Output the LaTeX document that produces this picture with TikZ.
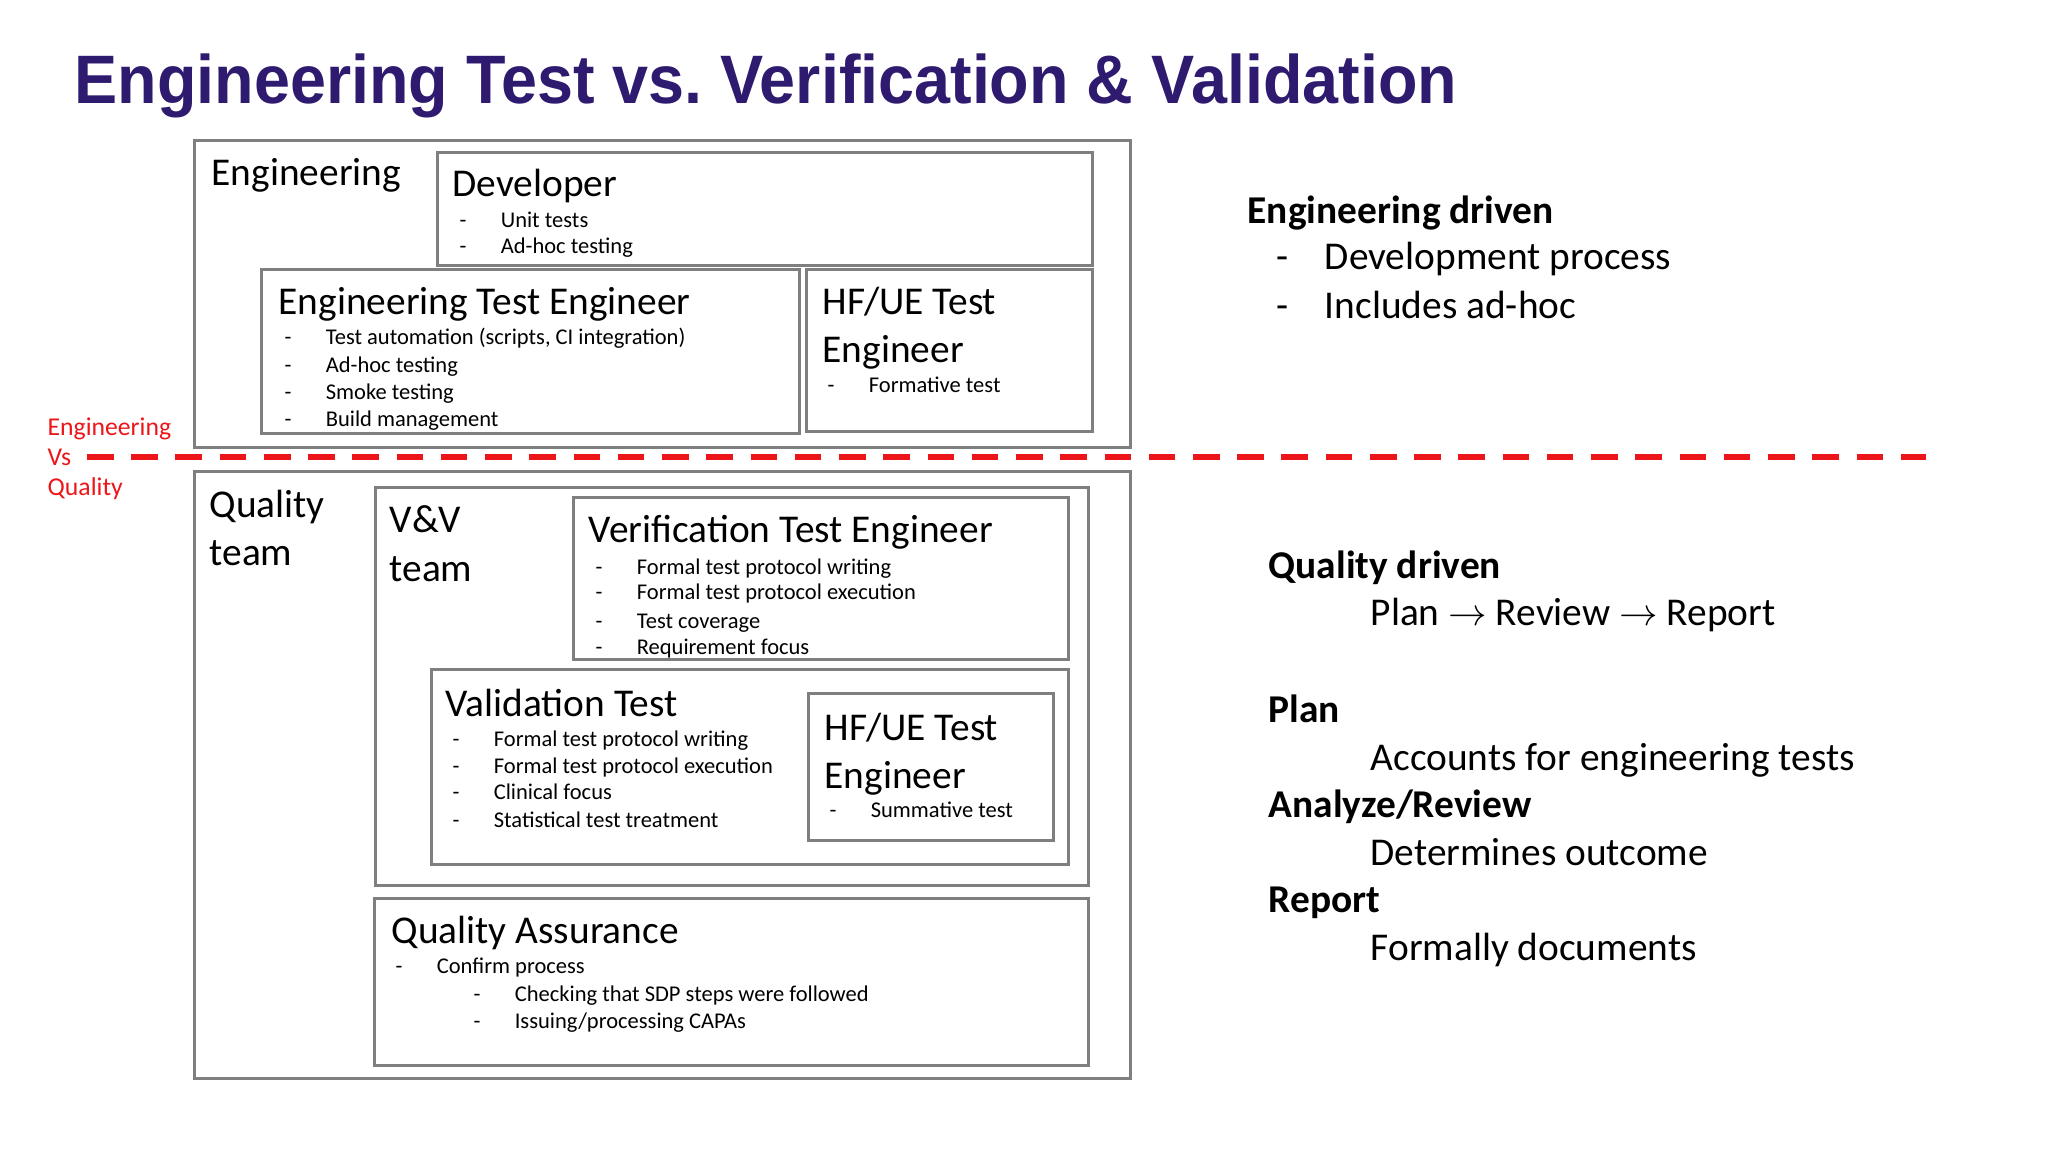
\documentclass[tikz,border=0pt]{standalone}
\usepackage{fontspec}
\setmainfont{Carlito}
\newfontfamily\titlefont{Liberation Sans}
\usepackage{tikz}
\definecolor{titlepurple}{RGB}{46,26,110}
\definecolor{boxgray}{RGB}{127,127,127}
\definecolor{splitred}{RGB}{236,22,26}
\tikzstyle{box}=[draw=boxgray,line width=0.8pt,anchor=north west,inner sep=0pt]
\tikzstyle{heading}=[anchor=base west,inner sep=0pt,font=\fontsize{11.2}{13.4}\selectfont]
\tikzstyle{boldhead}=[anchor=base west,inner sep=0pt,font=\fontsize{11.2}{13.4}\selectfont\bfseries]
\tikzstyle{smallitem}=[anchor=base west,inner sep=0pt,font=\fontsize{6.4}{7.7}\selectfont]
\tikzstyle{redlabel}=[anchor=base west,inner sep=0pt,text=splitred,font=\fontsize{7.3}{8.8}\selectfont]
\tikzstyle{splitline}=[draw=splitred,line width=1.7pt,dash pattern=on 7.55pt off 5.03pt]
\newcommand{\itemdash}{\makebox[11.7pt][l]{-}}
\newcommand{\sidedash}{\makebox[13.7pt][l]{-}}

\begin{document}
\begin{tikzpicture}[x=0.01cm,y=-0.01cm]

    \fill[white] (0,0) rectangle (2048,1152);
    \useasboundingbox (0,0) rectangle (2048,1152);

    \node[anchor=base west,inner sep=0pt,text=titlepurple] (title) at (74,104)
        {\scalebox{0.943}[1]{\titlefont\fontsize{19.5}{23}\selectfont\bfseries Engineering Test vs.\ Verification \& Validation}};

    % boxes: corner / name / width / height
    \foreach \x/\y/\name/\w/\h in {193/139/engOuter/936/307, 436/151/devBox/655/113, 260/268/eteBox/538/164, 805/268/hfEngBox/286/162,
        193/470/qualOuter/936/607, 374/486/vvBox/713/398, 572/496/verBox/495/162, 430/668/valBox/637/195, 807/692/hfValBox/245/147, 373/897/qaBox/714/167}
        \node[box,minimum width=\w*0.01cm,minimum height=\h*0.01cm] (\name) at (\x,\y) {};

    \foreach \pos/\name/\label in {{(211,186)/engLabel/Engineering}, {(452,197)/devHead/Developer}, {(278,315)/eteHead/Engineering Test Engineer},
        {(822,315)/hfEngHeadA/{HF/UE Test}}, {(822,363)/hfEngHeadB/Engineer}, {(209,518)/qualLabelA/Quality}, {(209,566)/qualLabelB/team},
        {(389,533)/vvLabelA/V\&V}, {(389,581)/vvLabelB/team}, {(588,543)/verHead/Verification Test Engineer}, {(445,716)/valHead/Validation Test},
        {(824,740)/hfValHeadA/{HF/UE Test}}, {(824,788)/hfValHeadB/Engineer}, {(391,943)/qaHead/Quality Assurance}}
        \node[heading] (\name) at \pos {\label};

    \foreach \pos/\name/\label in {{(459,228)/devA/Unit tests}, {(459,254)/devB/Ad-hoc testing},
        {(284,345)/eteA/Test automation (scripts, CI integration)}, {(284,373)/eteB/Ad-hoc testing}, {(284,400)/eteC/Smoke testing}, {(284,427)/eteD/Build management},
        {(827,393)/hfEngA/Formative test},
        {(595,574)/verA/Formal test protocol writing}, {(595,600)/verB/Formal test protocol execution}, {(595,628)/verC/Test coverage}, {(595,655)/verD/Requirement focus},
        {(452,746)/valA/Formal test protocol writing}, {(452,773)/valB/Formal test protocol execution}, {(452,799)/valC/Clinical focus}, {(452,827)/valD/Statistical test treatment},
        {(829,817)/hfValA/Summative test},
        {(395,973)/qaA/Confirm process}, {(473,1001)/qaB/Checking that SDP steps were followed}, {(473,1028)/qaC/{Issuing/processing CAPAs}}}
        \node[smallitem] (\name) at \pos {\itemdash\label};

    % engineering / quality split
    \foreach \pos/\name/\label in {{(47,436)/splitA/Engineering}, {(47,466)/splitB/Vs}, {(47,496)/splitC/Quality}}
        \node[redlabel] (\name) at \pos {\label};
    \coordinate (splitL) at (87,457);
    \coordinate (splitR) at (1926,457);
    \path[splitline] (splitL) -- (splitR);

    % right hand notes
    \foreach \pos/\name/\label in {{(1247,224)/engDriven/Engineering driven}, {(1268,579)/qualDriven/Quality driven},
        {(1268,722)/planHead/Plan}, {(1268,817)/reviewHead/{Analyze/Review}}, {(1268,912)/reportHead/Report}}
        \node[boldhead] (\name) at \pos {\label};

    \foreach \pos/\name/\label in {{(1276,270)/engNoteA/\sidedash Development process}, {(1276,319)/engNoteB/\sidedash Includes ad-hoc},
        {(1370,626)/flow/Plan $\rightarrow$ Review $\rightarrow$ Report}, {(1370,770)/planText/Accounts for engineering tests},
        {(1370,865)/reviewText/Determines outcome}, {(1370,960)/reportText/Formally documents}}
        \node[heading] (\name) at \pos {\label};

\end{tikzpicture}
\end{document}
